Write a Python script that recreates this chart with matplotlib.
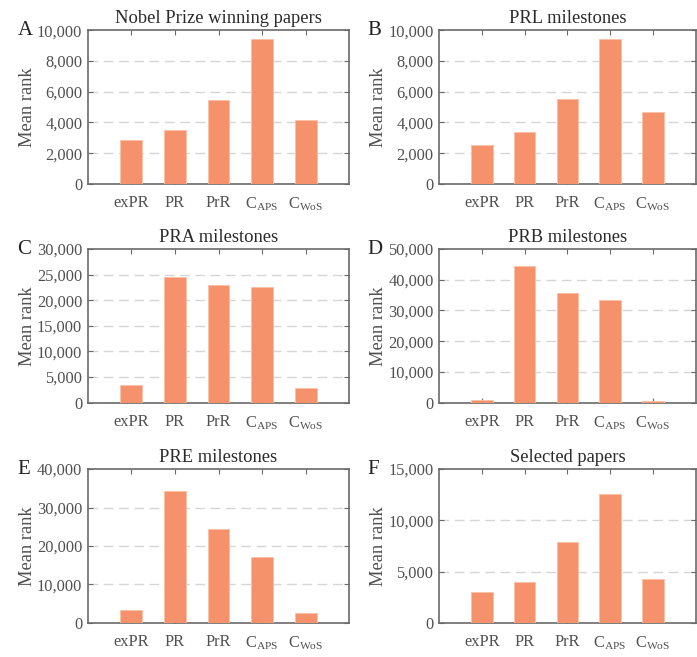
import matplotlib
matplotlib.use("Agg")
import matplotlib.pyplot as plt
from matplotlib.ticker import FuncFormatter, MultipleLocator

plt.rcParams['font.family'] = ['Liberation Serif', 'DejaVu Serif']
plt.rcParams['mathtext.fontset'] = 'custom'
plt.rcParams['mathtext.rm'] = 'Liberation Serif'

# data
categories = ['exPR', 'PR', 'PrR', r'C$_{\mathrm{APS}}$', r'C$_{\mathrm{WoS}}$']
titles = ['Nobel Prize winning papers', 'PRL milestones', 'PRA milestones',
          'PRB milestones', 'PRE milestones', 'Selected papers']
letters = ['A', 'B', 'C', 'D', 'E', 'F']

nobel = [2830, 3520, 5480, 9430, 4170]
prl = [2520, 3370, 5540, 9430, 4650]
pra = [3390, 24530, 22900, 22570, 2800]
prb = [760, 44460, 35540, 33370, 430]
pre = [3390, 34430, 24350, 17040, 2430]
selected = [3030, 3950, 7860, 12590, 4240]
all_values = [nobel, prl, pra, prb, pre, selected]

y_max = [10000, 10000, 30000, 50000, 40000, 15000]
y_step = [2000, 2000, 5000, 10000, 10000, 5000]

bar_color = '#F5916B'
text_color = '#505050'
spine_color = '#6a6a6a'

fig = plt.figure(figsize=(6.97, 6.57), dpi=100)

lefts = [0.126, 0.630]
width_ax = [0.375, 0.368]
bottoms = [0.720, 0.387, 0.052]
height_ax = 0.234

xs = list(range(1, len(categories) + 1))
comma = FuncFormatter(lambda v, p: f"{int(v):,}")

for i, vals in enumerate(all_values):
    row, col = divmod(i, 2)
    ax = fig.add_axes([lefts[col], bottoms[row], width_ax[col], height_ax])
    ax.bar(xs, vals, width=0.5, color=bar_color, edgecolor='#FAC0A6',
           linewidth=0.6, zorder=3)
    ax.set_xlim(0, 6)
    ax.set_ylim(0, y_max[i])
    ax.yaxis.set_major_locator(MultipleLocator(y_step[i]))
    ax.yaxis.set_major_formatter(comma)
    ax.set_xticks(xs)
    ax.set_xticklabels(categories)
    for yv in range(y_step[i], y_max[i], y_step[i]):
        ax.axhline(yv, color='#d6d6d6', linestyle=(0, (7, 4)), linewidth=1.0, zorder=1)
    ax.tick_params(direction='in', top=True, right=True, length=3.5,
                   width=0.8, color=spine_color, labelsize=11.8,
                   labelcolor=text_color, pad=4)
    ax.tick_params(axis='x', pad=8)
    for s in ax.spines.values():
        s.set_color(spine_color)
        s.set_linewidth(1.2)
    ax.set_ylabel('Mean rank', fontsize=13.3, color=text_color, labelpad=1)
    ax.set_title(titles[i], fontsize=13.3, color='#2a2a2a', pad=5)
    top = bottoms[row] + height_ax
    fig.text(0.025 if col == 0 else 0.527, top, letters[i], fontsize=15,
             color='#222222', va='center', ha='left')

fig.savefig('out.png', dpi=100)
